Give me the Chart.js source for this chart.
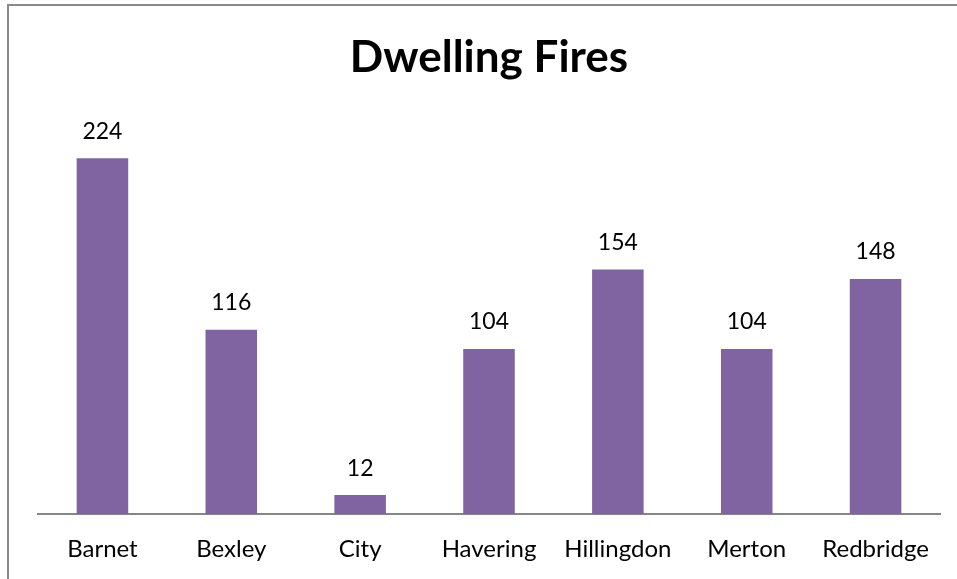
<!DOCTYPE html>
<html>
<head>
<meta charset="utf-8">
<script src="https://cdn.jsdelivr.net/npm/chart.js@4/dist/chart.umd.min.js"></script>
<style>
  html, body { margin: 0; padding: 0; background: #ffffff; overflow: hidden; }
  #frame { position: absolute; left: 7px; top: 4px; width: 1000px; height: 700px; border: 2px solid #8a8a8a; box-sizing: border-box; }
  #wrap { position: absolute; left: 0; top: 0; width: 957px; height: 600px; }
</style>
</head>
<body>
<div id="frame"></div>
<div id="wrap"><canvas id="c" width="957" height="600"></canvas></div>
<script>
const categories = ["Barnet", "Bexley", "City", "Havering", "Hillingdon", "Merton", "Redbridge"];
const dwellingFires = [224, 116, 12, 104, 154, 104, 148];
const chartTitle = "Dwelling Fires";

const valueLabels = {
  id: 'valueLabels',
  afterDatasetsDraw(chart) {
    const ctx = chart.ctx;
    ctx.save();
    ctx.fillStyle = '#000000';
    ctx.font = '23px Lato';
    ctx.textAlign = 'center';
    ctx.textBaseline = 'middle';
    const meta = chart.getDatasetMeta(0);
    meta.data.forEach((bar, i) => {
      ctx.fillText(String(chart.data.datasets[0].data[i]), bar.x, bar.y - 27);
    });
    ctx.restore();
  }
};

new Chart(document.getElementById('c'), {
  type: 'bar',
  data: {
    labels: categories,
    datasets: [{
      data: dwellingFires,
      backgroundColor: '#8064A2',
      borderWidth: 0,
      barPercentage: 0.4,
      categoryPercentage: 1.0
    }]
  },
  options: {
    responsive: false,
    animation: false,
    devicePixelRatio: 1,
    layout: { padding: { left: 38, right: 17, top: 0, bottom: 16 } },
    plugins: {
      legend: { display: false },
      tooltip: { enabled: false },
      title: {
        display: true,
        text: chartTitle,
        color: '#000000',
        font: { family: 'Lato', size: 44, weight: 'bold', lineHeight: 1.2 },
        padding: { top: 31, bottom: 33 }
      }
    },
    scales: {
      x: {
        grid: { display: false, drawTicks: false },
        border: { display: true, color: '#868686', width: 2 },
        ticks: {
          color: '#000000',
          font: { family: 'Lato', size: 24, lineHeight: 1.2 },
          padding: 20.5,
          maxRotation: 0,
          autoSkip: false
        }
      },
      y: {
        display: false,
        min: 0,
        max: 250
      }
    }
  },
  plugins: [valueLabels]
});
</script>
</body>
</html>
